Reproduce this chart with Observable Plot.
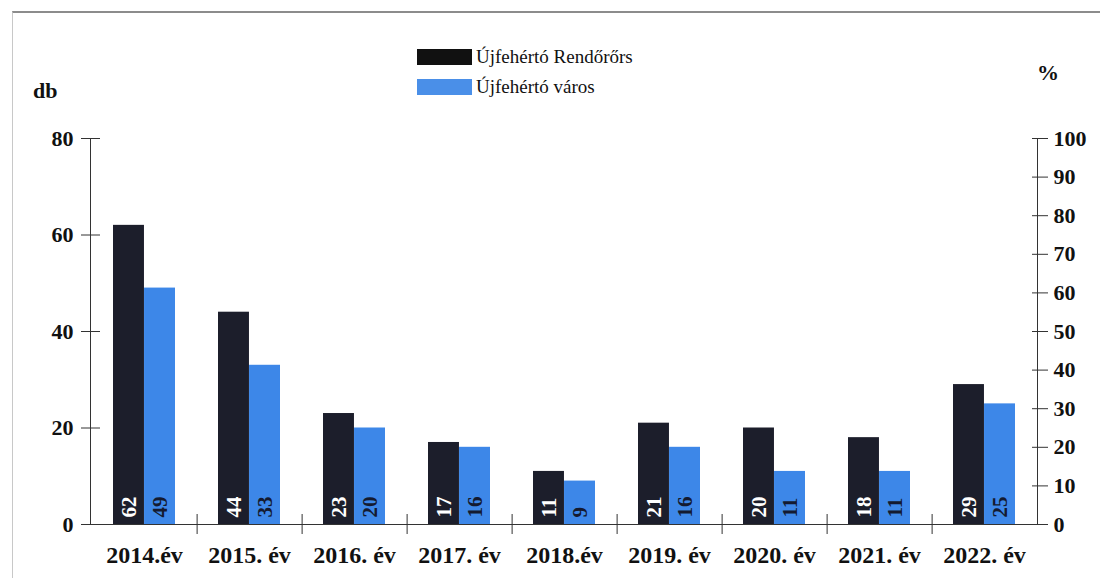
<!DOCTYPE html>
<html>
<head>
<meta charset="utf-8">
<script src="https://cdn.jsdelivr.net/npm/d3@7"></script>
<script src="https://cdn.jsdelivr.net/npm/@observablehq/plot@0.6"></script>
<style>
  body { margin: 0; background: #fff; }
  #wrap { position: relative; width: 1100px; height: 578px; overflow: hidden;
          font-family: "Liberation Serif", "Times New Roman", serif; color: #111; }
  .border { position: absolute; left: 12px; top: 11px; right: 0; bottom: 0;
            border-top: 2px solid #8c8c8c; border-left: 1px solid #c8c8c8; }
  #chart { position: absolute; left: 0; top: 0; }
  #legend { position: absolute; left: 417px; top: 42px; font-size: 19px; }
  .item { display: flex; align-items: center; height: 30px; }
  .sw { width: 55px; height: 16px; margin-right: 4px; }
  .unit { position: absolute; font-weight: bold; font-size: 22px; }
</style>
</head>
<body>
<div id="wrap">
  <div class="border"></div>
  <div id="chart"></div>
  <div id="legend"></div>
  <div class="unit" style="left:33px; top:78px;">db</div>
  <div class="unit" style="left:1037px; top:60px;">%</div>
</div>
<script>
const years = ["2014.év", "2015. év", "2016. év", "2017. év", "2018.év", "2019. év", "2020. év", "2021. év", "2022. év"];
const rendororsValues = [62, 44, 23, 17, 11, 21, 20, 18, 29];
const varosValues = [49, 33, 20, 16, 9, 16, 11, 11, 25];
const seriesNames = ["Újfehértó Rendőrőrs", "Újfehértó város"];
const seriesColors = ["#1c1e2b", "#3d87e8"];
const labelColors = ["#ffffff", "#141a30"];
const leftTicks = [0, 20, 40, 60, 80];
const rightTicks = [0, 10, 20, 30, 40, 50, 60, 70, 80, 90, 100];
const leftMax = 80;
const rightMax = 100;

const width = 1100, height = 578;
const marginLeft = 90, marginRight = 63, marginTop = 138, marginBottom = 54;
const paddingInner = 0.41, paddingOuter = paddingInner / 2;
const step = (width - marginLeft - marginRight) / years.length;
const half = step * (1 - paddingInner) / 2;

const rendorors = years.map((year, i) => ({year, value: rendororsValues[i]}));
const varos = years.map((year, i) => ({year, value: varosValues[i]}));
const toLeft = v => v * leftMax / rightMax;

const labelStyle = {fontSize: 21, fontWeight: "bold", rotate: -90, textAnchor: "start", lineAnchor: "middle", dy: -7};

const chart = Plot.plot({
  width, height, marginLeft, marginRight, marginTop, marginBottom,
  style: {background: "transparent", fontFamily: "'Liberation Serif', 'Times New Roman', serif", color: "#111"},
  x: {domain: years, paddingInner, paddingOuter, align: 0.5, label: null},
  y: {domain: [0, leftMax], label: null},
  marks: [
    Plot.barY(rendorors, {x: "year", y: "value", fill: seriesColors[0], insetRight: half}),
    Plot.barY(varos, {x: "year", y: "value", fill: seriesColors[1], insetLeft: half}),
    Plot.text(rendorors, {x: "year", y: 0, text: d => String(d.value), fill: labelColors[0], dx: -half / 2, ...labelStyle}),
    Plot.text(varos, {x: "year", y: 0, text: d => String(d.value), fill: labelColors[1], dx: half / 2, ...labelStyle}),
    Plot.ruleY([0], {stroke: "#333", strokeWidth: 1.2}),
    Plot.ruleX(years.slice(0, -1), {x: d => d, y1: 0, y2: 0, dx: step / 2, insetTop: -10, insetBottom: -10, stroke: "#333"}),
    Plot.frame({anchor: "left", stroke: "#333"}),
    Plot.frame({anchor: "right", stroke: "#333"}),
    // left axis
    Plot.axisY({anchor: "left", ticks: leftTicks, tickSize: 19, dx: 10, tickFormat: () => "", label: null, stroke: "#333"}),
    Plot.axisY({anchor: "left", ticks: leftTicks, tickSize: 0, tickPadding: 17, fontSize: 22, fontWeight: "bold", label: null}),
    // right axis (%)
    Plot.axisY({anchor: "right", ticks: rightTicks.map(toLeft), tickSize: 16, dx: -6, tickFormat: () => "", label: null, stroke: "#333"}),
    Plot.axisY({anchor: "right", ticks: rightTicks.map(toLeft), tickSize: 0, tickPadding: 16, fontSize: 22, fontWeight: "bold", label: null,
                tickFormat: d => String(Math.round(d * rightMax / leftMax))}),
    // x axis
    Plot.axisX({anchor: "bottom", tickSize: 0, tickPadding: 21, fontSize: 24, fontWeight: "bold", label: null})
  ]
});
document.getElementById("chart").appendChild(chart);

const legend = document.getElementById("legend");
seriesNames.forEach((name, i) => {
  const item = document.createElement("div");
  item.className = "item";
  const sw = document.createElement("span");
  sw.className = "sw";
  sw.style.background = i === 0 ? "#111" : "#4a8fe8";
  const t = document.createElement("span");
  t.textContent = name;
  item.appendChild(sw);
  item.appendChild(t);
  legend.appendChild(item);
});
</script>
</body>
</html>
